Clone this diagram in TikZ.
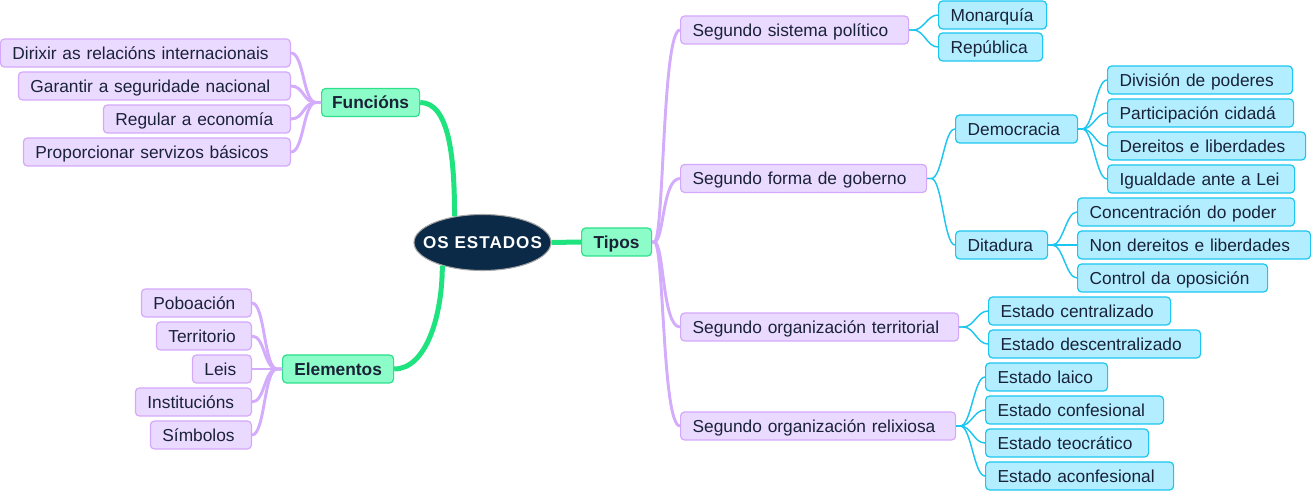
\documentclass[tikz,border=0pt]{standalone}
\usepackage{fontspec}
\setmainfont{Liberation Sans}
\usetikzlibrary{shapes.geometric}
\definecolor{pfill}{HTML}{EBDAFF}
\definecolor{pdraw}{HTML}{D4A8FA}
\definecolor{pline}{HTML}{D4ACFC}
\definecolor{gfill}{HTML}{8CFCC8}
\definecolor{gdraw}{HTML}{2EE08C}
\definecolor{gline}{HTML}{1EE37F}
\definecolor{cfill}{HTML}{B2EEFF}
\definecolor{cdraw}{HTML}{1CC6F0}
\definecolor{cline}{HTML}{1CC6F0}
\definecolor{navy}{HTML}{0B2A48}
\definecolor{txt}{HTML}{1A2238}
\begin{document}
\begin{tikzpicture}[x=0.75pt,y=-0.75pt,
 base/.style={rounded corners=3pt, minimum height=21pt, inner xsep=9pt, inner ysep=0pt,
   text height=9.3pt, text depth=0pt,
   font=\fontsize{13}{15}\selectfont, text=txt, line width=0.9pt},
 pbox/.style={base, fill=pfill, draw=pdraw, align=left},
 cbox/.style={base, fill=cfill, draw=cdraw, align=left},
 gbox/.style={base, inner xsep=4pt, fill=gfill, draw=gdraw, font=\fontsize{13}{15}\selectfont\bfseries},
 bw/.style={text width={#1*0.75pt-18pt}},
 gw/.style={minimum width=#1*0.75pt},
 pl/.style={draw=pline, line width=2.2pt},
 gl/.style={draw=gline, line width=3.75pt},
 cl/.style={draw=cline, line width=1.1pt}
]
\useasboundingbox (0,0) rectangle (1311,491);

% central
\node[ellipse, fill=navy, draw=gray!70, line width=0.8pt, minimum width=137*0.75pt,
  minimum height=56*0.75pt, inner sep=0pt, text=white, text height=9.3pt, text depth=0pt,
  font=\fontsize{12.8}{14}\selectfont\bfseries] (c) at (482.5,242.5)
  {\makebox[0pt]{\addfontfeature{LetterSpace=6}OS ESTADOS}};

% main branches
\node[gbox, gw=98, anchor=west] (fun) at (321,102.5) {Funcións};
\node[gbox, gw=111, anchor=west] (ele) at (282,369) {Elementos};
\node[gbox, gw=70, anchor=west] (tip) at (581,242) {Tipos};

% Funcions children
\node[pbox, bw=290, anchor=east] (f1) at (291,53) {\mbox{Dirixir as relacións internacionais}};
\node[pbox, bw=272, anchor=east] (f2) at (291,86) {\mbox{Garantir a seguridade nacional}};
\node[pbox, bw=187, anchor=east] (f3) at (291,119) {\mbox{Regular a economía}};
\node[pbox, bw=267, anchor=east] (f4) at (291,152) {\mbox{Proporcionar servizos básicos}};

% Elementos children
\node[pbox, bw=110, anchor=east] (e1) at (252,303) {\mbox{Poboación}};
\node[pbox, bw=95, anchor=east] (e2) at (252,336) {\mbox{Territorio}};
\node[pbox, bw=59, anchor=east] (e3) at (252,369) {\mbox{Leis}};
\node[pbox, bw=116, anchor=east] (e4) at (252,402) {\mbox{Institucións}};
\node[pbox, bw=101, anchor=east] (e5) at (252,435) {\mbox{Símbolos}};

% Tipos children
\node[pbox, bw=228, anchor=west] (t1) at (680,30) {\mbox{Segundo sistema político}};
\node[pbox, bw=246, anchor=west] (t2) at (680,178.5) {\mbox{Segundo forma de goberno}};
\node[pbox, bw=278, anchor=west] (t3) at (680,327) {\mbox{Segundo organización territorial}};
\node[pbox, bw=275, anchor=west] (t4) at (680,426) {\mbox{Segundo organización relixiosa}};

% level 3
\node[cbox, bw=108, anchor=west] (m1) at (938,15) {\mbox{Monarquía}};
\node[cbox, bw=104, anchor=west] (m2) at (938,47) {\mbox{República}};
\node[cbox, bw=122, anchor=west] (dem) at (955,129) {\mbox{Democracia}};
\node[cbox, bw=92, anchor=west] (dit) at (955,245) {\mbox{Ditadura}};
\node[cbox, bw=185, anchor=west] (d1) at (1107,80) {\mbox{División de poderes}};
\node[cbox, bw=186, anchor=west] (d2) at (1107,113) {\mbox{Participación cidadá}};
\node[cbox, bw=198, anchor=west] (d3) at (1107,146) {\mbox{Dereitos e liberdades}};
\node[cbox, bw=187, anchor=west] (d4) at (1107,179) {\mbox{Igualdade ante a Lei}};
\node[cbox, bw=217, anchor=west] (k1) at (1077,212) {\mbox{Concentración do poder}};
\node[cbox, bw=233, anchor=west] (k2) at (1077,245) {\mbox{Non dereitos e liberdades}};
\node[cbox, bw=190, anchor=west] (k3) at (1077,278) {\mbox{Control da oposición}};
\node[cbox, bw=182, anchor=west] (o1) at (988,311) {\mbox{Estado centralizado}};
\node[cbox, bw=212, anchor=west] (o2) at (988,344) {\mbox{Estado descentralizado}};
\node[cbox, bw=122, anchor=west] (r1) at (985,377) {\mbox{Estado laico}};
\node[cbox, bw=178, anchor=west] (r2) at (985,410) {\mbox{Estado confesional}};
\node[cbox, bw=163, anchor=west] (r3) at (985,443) {\mbox{Estado teocrático}};
\node[cbox, bw=188, anchor=west] (r4) at (985,476) {\mbox{Estado aconfesional}};

% green connectors
\draw[gl] (fun.east) .. controls +(30,0) and +(0,-55) .. (c.137);
\draw[gl] (ele.east) .. controls +(32,0) and +(0,50) .. (c.210);
\draw[gl] (c.east) -- (tip.west);

% purple connectors
\foreach \n in {f1,f2,f3,f4}
  \draw[pl] (fun.west) -- ++(-5,0) .. controls +(-13,0) and +(13,0) .. (\n.east);
\foreach \n in {e1,e2,e3,e4,e5}
  \draw[pl] (ele.west) -- ++(-5,0) .. controls +(-13,0) and +(13,0) .. (\n.east);
\foreach \n in {t1,t2,t3,t4}
  \draw[pl] (tip.east) -- ++(2,0) .. controls +(10,0) and +(-18,0) .. (\n.west);

% cyan connectors
\foreach \n in {m1,m2}
  \draw[cl] (t1.east) -- ++(4,0) .. controls +(11,0) and +(-11,0) .. (\n.west);
\foreach \n in {dem,dit}
  \draw[cl] (t2.east) -- ++(4,0) .. controls +(11,0) and +(-11,0) .. (\n.west);
\foreach \n in {d1,d2,d3,d4}
  \draw[cl] (dem.east) -- ++(4,0) .. controls +(11,0) and +(-11,0) .. (\n.west);
\foreach \n in {k1,k2,k3}
  \draw[cl] (dit.east) -- ++(4,0) .. controls +(11,0) and +(-11,0) .. (\n.west);
\foreach \n in {o1,o2}
  \draw[cl] (t3.east) -- ++(4,0) .. controls +(11,0) and +(-11,0) .. (\n.west);
\foreach \n in {r1,r2,r3,r4}
  \draw[cl] (t4.east) -- ++(4,0) .. controls +(11,0) and +(-11,0) .. (\n.west);
\end{tikzpicture}
\end{document}
